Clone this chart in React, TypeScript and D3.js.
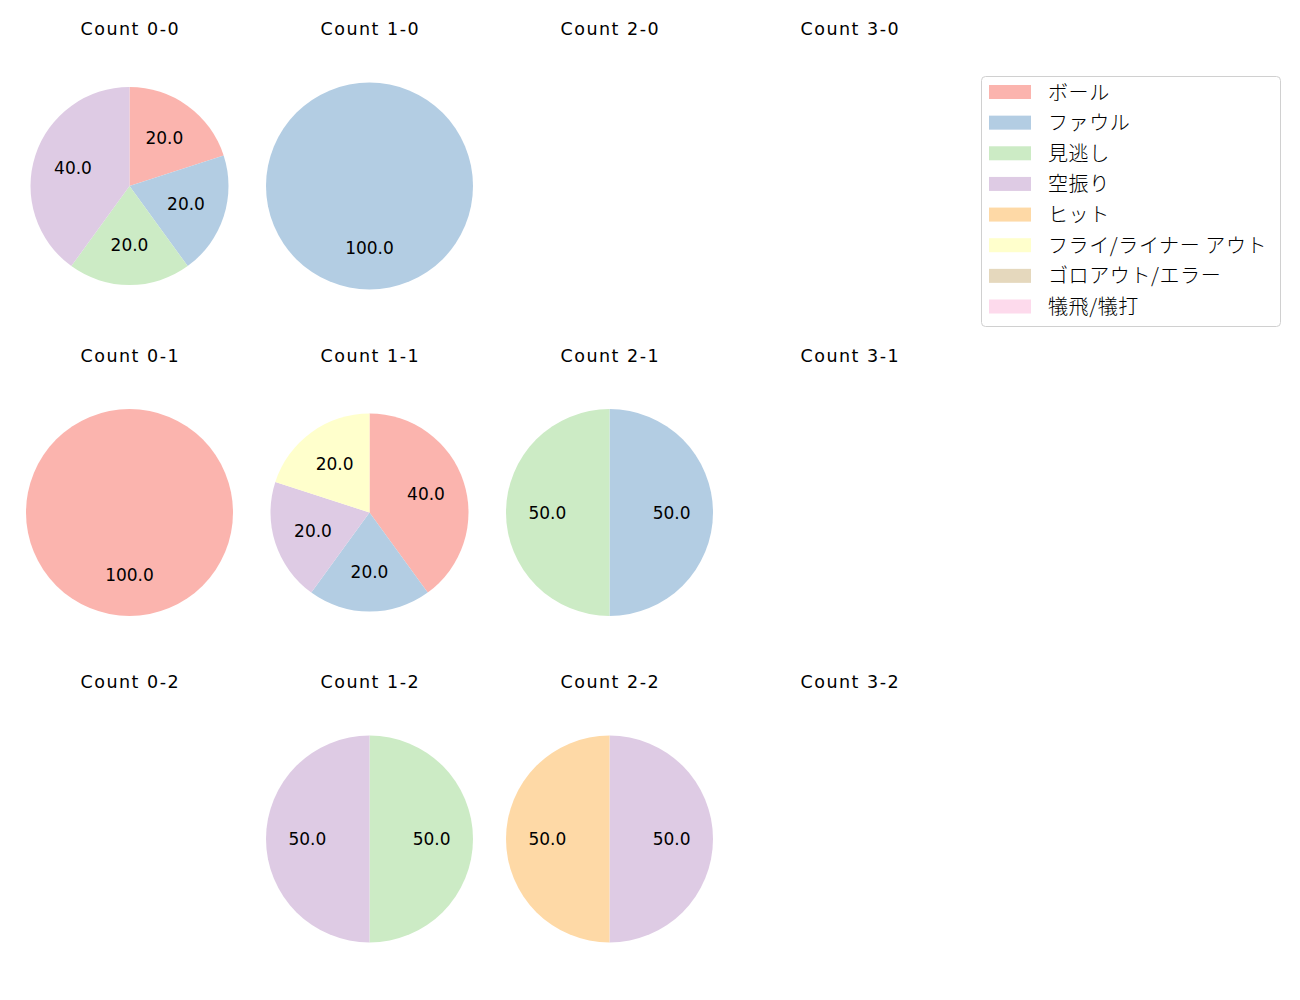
import React from "react";
import * as d3 from "d3";

const categories = ["ボール", "ファウル", "見逃し", "空振り", "ヒット", "フライ/ライナー アウト", "ゴロアウト/エラー", "犠飛/犠打"];
const colors = ["#fbb4ae", "#b3cde3", "#ccebc5", "#decbe4", "#fed9a6", "#ffffcc", "#e5d8bd", "#fddaec"];
const balls = [0, 1, 2, 3];
const strikes = [0, 1, 2];

// percentages per category, keyed by "balls-strikes"
const count00 = [20, 20, 20, 40, 0, 0, 0, 0];
const count10 = [0, 100, 0, 0, 0, 0, 0, 0];
const count01 = [100, 0, 0, 0, 0, 0, 0, 0];
const count11 = [40, 20, 0, 20, 0, 20, 0, 0];
const count21 = [0, 50, 50, 0, 0, 0, 0, 0];
const count12 = [0, 0, 50, 50, 0, 0, 0, 0];
const count22 = [0, 0, 0, 50, 50, 0, 0, 0];

const countData: Record<string, number[]> = {
  "0-0": count00,
  "1-0": count10,
  "0-1": count01,
  "1-1": count11,
  "2-1": count21,
  "1-2": count12,
  "2-2": count22,
};

const FONT = "'DejaVu Sans', 'Noto Sans CJK JP', sans-serif";
const JFONT = "'Noto Sans CJK JP', sans-serif";

function Pie({ values, cx, cy }: { values: number[]; cx: number; cy: number }) {
  const nonZero = values.filter((v) => v > 0).length;
  const r = nonZero > 2 ? 99 : 103.5;
  const items = values.map((v, i) => ({ v, i })).filter((d) => d.v > 0);
  const pie = d3.pie<{ v: number; i: number }>().sort(null).value((d) => d.v).startAngle(0).endAngle(2 * Math.PI);
  const arcs = pie(items);
  const arc = d3.arc<d3.PieArcDatum<{ v: number; i: number }>>().innerRadius(0).outerRadius(r);
  const labelArc = d3.arc<d3.PieArcDatum<{ v: number; i: number }>>().innerRadius(r * 0.6).outerRadius(r * 0.6);
  return (
    <g transform={`translate(${cx},${cy})`}>
      {arcs.map((a, k) => (
        <path key={k} d={arc(a) || ""} fill={colors[a.data.i]} />
      ))}
      {arcs.map((a, k) => {
        const [x, y] = labelArc.centroid(a);
        return (
          <text key={"t" + k} x={x} y={y} textAnchor="middle" dominantBaseline="central" fontSize={17} fontFamily={FONT} fill="#000">
            {a.data.v.toFixed(1)}
          </text>
        );
      })}
    </g>
  );
}

export default function App() {
  const colX = d3.scaleLinear().domain([0, 3]).range([129.5, 849.5]);
  const rowY = d3.scaleLinear().domain([0, 2]).range([186, 839]);
  const legendY = d3.scaleLinear().domain([0, 7]).range([92, 306.5]);
  return (
    <svg width={1300} height={1000} style={{ display: "block", position: "absolute", left: 0, top: 0 }}>
      <rect width={1300} height={1000} fill="#fff" />
      {strikes.map((s) =>
        balls.map((b) => {
          const key = `${b}-${s}`;
          const cx = colX(b);
          const cy = rowY(s);
          const vals = countData[key];
          return (
            <g key={key}>
              <text x={cx + 0.8} y={cy - 157} textAnchor="middle" dominantBaseline="central" fontSize={17.5} letterSpacing={1.5} fontFamily={FONT} fill="#000">
                {`Count ${key}`}
              </text>
              {vals && <Pie values={vals} cx={cx} cy={cy} />}
            </g>
          );
        })
      )}
      <g>
        <rect x={981.5} y={76.5} width={299} height={250} rx={4} fill="#fff" stroke="#d0d0d0" />
        {categories.map((c, i) => (
          <g key={c}>
            <rect x={989} y={legendY(i) - 7} width={42} height={14} fill={colors[i]} />
            <text x={1048} y={legendY(i) - 1} dominantBaseline="central" fontSize={20} letterSpacing={0.6} fontFamily={JFONT} fontWeight={300} fill="#000">
              {c}
            </text>
          </g>
        ))}
      </g>
    </svg>
  );
}
